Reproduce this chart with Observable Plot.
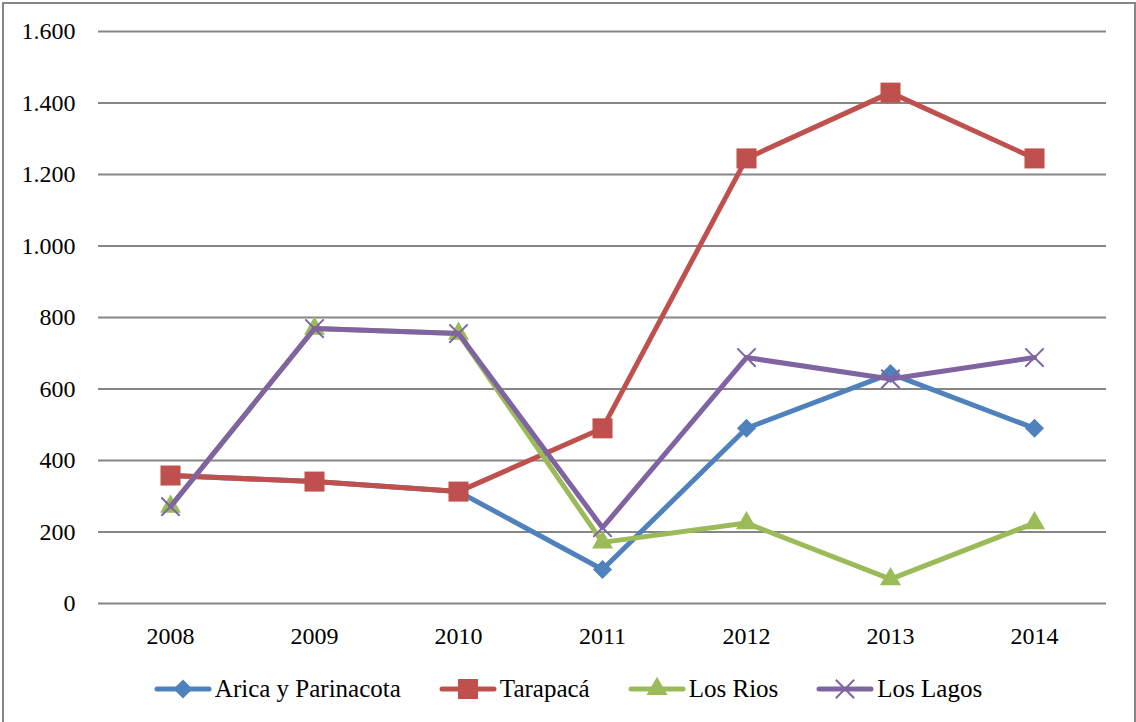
<!DOCTYPE html>
<html><head><meta charset="utf-8">
<script src="https://cdn.jsdelivr.net/npm/d3@7"></script>
<script src="https://cdn.jsdelivr.net/npm/@observablehq/plot@0.6"></script>
<style>
body{margin:0;background:#fff;width:1136px;height:722px;overflow:hidden;position:relative;font-family:"Liberation Serif",serif;}
#frame{position:absolute;left:2px;top:2px;width:1134px;height:740px;border:2px solid #878787;box-sizing:border-box;}
#chart{position:absolute;left:0;top:0;}
#legend{position:absolute;left:0;top:675px;width:1136px;height:28px;display:flex;justify-content:center;align-items:center;gap:38px;font-size:25px;color:#000;}
.item{display:flex;align-items:center;}
.item svg{margin-right:3px;}
</style></head>
<body>
<div id="frame"></div>
<div id="chart"></div>
<div id="legend"></div>
<script>
const years = ["2008","2009","2010","2011","2012","2013","2014"];
const seriesNames = ["Arica y Parinacota","Tarapacá","Los Rios","Los Lagos"];
const arica    = [358, 341, 313,  95,  490,  643,  490];
const tarapaca = [358, 341, 313, 490, 1245, 1429, 1245];
const losRios  = [271, 769, 755, 171,  225,   68,  225];
const losLagos = [271, 769, 755, 212,  688,  628,  688];
const yTicks = [0,200,400,600,800,1000,1200,1400,1600];

const colors = ["#4F81BD","#C0504D","#9BBB59","#8064A2"];
const symbols = ["diamond2","square","triangle","times"];
const radii = [8.6, 11.3, 7.8, 8.4];
const values = [arica, tarapaca, losRios, losLagos];

const fmt = d3.formatLocale({decimal:",", thousands:".", grouping:[3], currency:["",""]}).format(",d");

const marks = [
  Plot.gridY(yTicks, {stroke:"#868686", strokeOpacity:1, strokeWidth:2}),
  Plot.axisY(yTicks, {tickSize:0, tickPadding:23, tickFormat:fmt, fontSize:24}),
  Plot.axisX({tickSize:0, tickPadding:23, fontSize:24})
];
values.forEach((vals, k) => {
  const rows = years.map((yr, i) => ({year: yr, value: vals[i]}));
  marks.push(Plot.line(rows, {x:"year", y:"value", stroke:colors[k], strokeWidth:5, strokeLinejoin:"round", strokeLinecap:"round"}));
  if (symbols[k] === "times") {
    marks.push(Plot.dot(rows, {x:"year", y:"value", symbol:"times", r:radii[k], stroke:colors[k], strokeWidth:2, fill:"none"}));
  } else {
    marks.push(Plot.dot(rows, {x:"year", y:"value", symbol:symbols[k], r:radii[k], fill:colors[k], stroke:"none"}));
  }
});

const chart = Plot.plot({
  width:1136, height:650,
  marginLeft:98, marginRight:30, marginTop:31, marginBottom:47,
  style:{fontFamily:"Liberation Serif", fontSize:"24px", color:"#000", background:"transparent", overflow:"visible"},
  x:{type:"point", domain:years, padding:0.5, label:null},
  y:{domain:[0,1600], label:null},
  marks
});
document.getElementById("chart").appendChild(chart);

// legend
const legend = document.getElementById("legend");
const symMap = {diamond2:d3.symbolDiamond2, square:d3.symbolSquare, triangle:d3.symbolTriangle, times:d3.symbolTimes};
seriesNames.forEach((name, k) => {
  const item = document.createElement("div");
  item.className = "item";
  const svg = d3.create("svg").attr("width",58).attr("height",28);
  svg.append("line").attr("x1",3).attr("x2",55).attr("y1",14).attr("y2",14)
    .attr("stroke",colors[k]).attr("stroke-width",5).attr("stroke-linecap","round");
  const p = svg.append("path").attr("transform","translate(29,14)")
    .attr("d", d3.symbol(symMap[symbols[k]], Math.PI*radii[k]*radii[k])());
  if (symbols[k] === "times") p.attr("fill","none").attr("stroke",colors[k]).attr("stroke-width",2);
  else p.attr("fill",colors[k]);
  item.appendChild(svg.node());
  const span = document.createElement("span");
  span.textContent = name;
  item.appendChild(span);
  legend.appendChild(item);
});
</script>
</body></html>
